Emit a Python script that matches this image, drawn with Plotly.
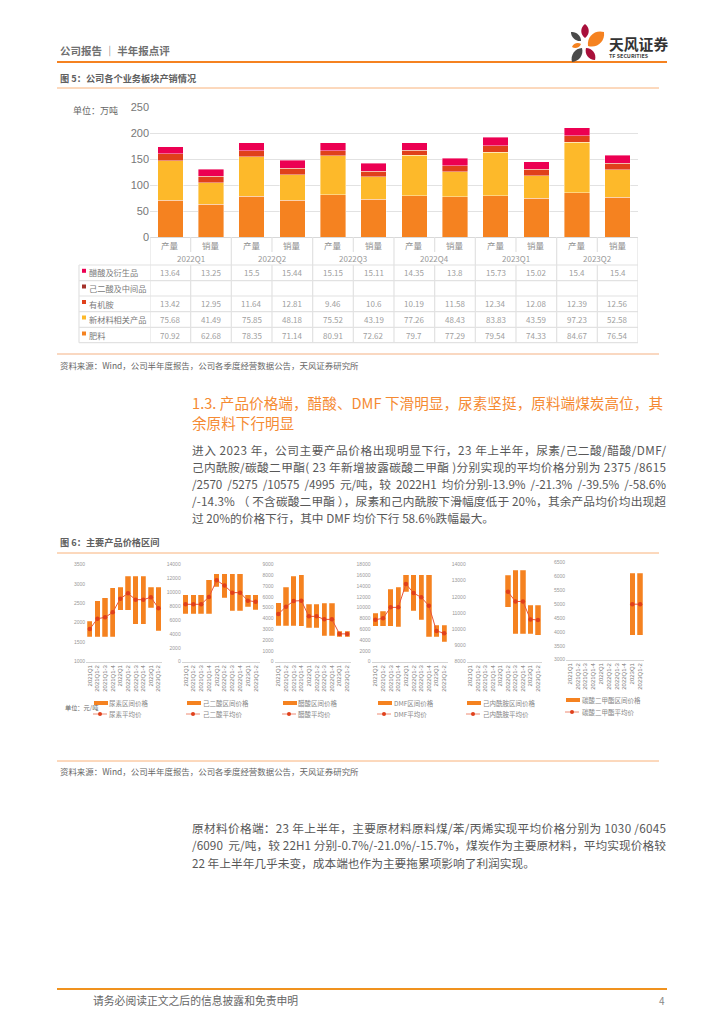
import json
import plotly.graph_objects as go

W, H = 724, 1024
FONT = "Noto Sans CJK SC"

# ---------- Figure 5 data ----------
cat_main = ["产量", "销量"] * 6
quarters = ["2022Q1", "2022Q2", "2022Q3", "2022Q4", "2023Q1", "2023Q2"]
acetic = [13.64, 13.25, 15.5, 15.44, 15.15, 15.11, 14.35, 13.8, 15.73, 15.02, 15.4, 15.4]
adipic = [None] * 12
amine = [13.42, 12.95, 11.64, 12.81, 9.46, 10.6, 10.19, 11.58, 12.34, 12.08, 12.39, 12.56]
newmat = [75.68, 41.49, 75.85, 48.18, 75.52, 43.19, 77.26, 48.43, 83.83, 43.59, 97.23, 52.58]
fert = [70.92, 62.68, 78.35, 71.14, 80.91, 72.62, 79.7, 77.29, 79.54, 74.33, 84.67, 76.54]
main_ticks = [0, 50, 100, 150, 200, 250]

# ---------- Figure 6 data ----------
periods = ["2021Q1", "2021Q1-2", "2021Q1-3", "2021Q1-4", "2022Q1", "2022Q1-2", "2022Q1-3", "2022Q1-4", "2023Q1", "2023Q1-2"]
urea_hi = [2044, 2558, 2643, 2900, 2917, 3191, 3191, 3191, 2917, 2917]
urea_lo = [1642, 1642, 1642, 1642, 2318, 2318, 1967, 1967, 2387, 1796]
urea_avg = [1839, 2104, 2138, 2267, 2618, 2755, 2592, 2592, 2652, 2375]
adip_hi = [9592, 9592, 9592, 11750, 12613, 12613, 12613, 12613, 9592, 9592]
adip_lo = [6858, 6858, 6858, 6858, 10743, 9208, 7338, 7338, 7913, 7482]
adip_avg = [8249, 8249, 8249, 9304, 11702, 10935, 9928, 9928, 8777, 8615]
acet_hi = [5455, 6871, 7918, 8011, 5330, 5330, 5421, 5421, 2803, 2803]
acet_lo = [3328, 3328, 3328, 3297, 3143, 3143, 2402, 2402, 2310, 2310]
acet_avg = [4406, 5086, 5607, 5638, 4190, 4190, 3912, 3912, 2570, 2570]
dmf_hi = [8994, 9363, 13429, 13737, 16078, 16078, 16078, 16078, 6714, 6714]
dmf_lo = [6591, 6591, 6591, 6468, 12936, 9425, 7762, 4620, 4620, 3696]
dmf_avg = [7762, 8008, 10041, 10041, 14353, 12690, 11889, 10349, 5667, 5275]
capro_hi = [None, None, None, None, None, 13330, 13638, 13638, 11485, 11485]
capro_lo = [None, None, None, None, None, 11342, 9722, 9722, 9722, 9640]
capro_avg = [None, None, None, None, None, 12305, 11711, 11711, 10604, 10575]
dmc_hi = [None] * 8 + [6110, 6110]
dmc_lo = [None] * 8 + [3873, 3873]
dmc_avg = [None] * 8 + [4995, 4995]

ORANGE = "#F58220"
YELLOW = "#FDB92A"
RED = "#E0401B"
BROWN = "#A5322A"
CRIMSON = "#EC0052"
GRID = "#E2E2E2"


def px(x):
    return x / W


def py(y):
    return 1 - y / H


annotations = []
shapes = []
justify = {}


def txt(x, y, s, size=9, color="#666666", anchor="left", xref="paper", width=None):
    annotations.append(dict(
        x=px(x) if xref == "paper" else x, y=py(y), xref=xref, yref="paper", text=s,
        showarrow=False, xanchor=anchor, yanchor="middle", borderpad=0,
        font=dict(family=FONT, size=size, color=color)))
    if width:
        justify[s] = width


def hline(x0, x1, y, color, width=1, xref="paper"):
    shapes.append(dict(type="line", xref=xref, yref="paper",
                       x0=px(x0) if xref == "paper" else x0,
                       x1=px(x1) if xref == "paper" else x1,
                       y0=py(y), y1=py(y), line=dict(color=color, width=width)))


def vline(x, y0, y1, color=GRID, width=1.2, xref="x"):
    shapes.append(dict(type="line", xref=xref, yref="paper", x0=x, x1=x, y0=py(y0), y1=py(y1),
                       line=dict(color=color, width=width)))


def box(x0, y0, x1, y1, color):
    shapes.append(dict(type="rect", xref="paper", yref="paper", x0=px(x0), x1=px(x1), y0=py(y0), y1=py(y1),
                       fillcolor=color, line=dict(width=0)))


def petal(x0, y0, x1, y1, w, color):
    """Leaf shape between two tips, in page pixels."""
    dx, dy = x1 - x0, y1 - y0
    L = (dx * dx + dy * dy) ** 0.5
    nx, ny = -dy / L * w, dx / L * w
    a = (x0 + dx * 0.25, y0 + dy * 0.25)
    b = (x0 + dx * 0.75, y0 + dy * 0.75)
    pts = [(a[0] + nx, a[1] + ny), (b[0] + nx, b[1] + ny), (x1, y1),
           (b[0] - nx, b[1] - ny), (a[0] - nx, a[1] - ny), (x0, y0)]
    c = lambda p: f"{px(p[0]):.5f},{py(p[1]):.5f}"
    path = f"M{c((x0, y0))} C{c(pts[0])} {c(pts[1])} {c(pts[2])} C{c(pts[3])} {c(pts[4])} {c(pts[5])} Z"
    shapes.append(dict(type="path", xref="paper", yref="paper", path=path, fillcolor=color, line=dict(width=0)))


fig = go.Figure()
layout_axes = {}

# ---------- main chart ----------
X0, X1, YT, YB = 150, 638, 107, 237
layout_axes["xaxis"] = dict(domain=[px(X0), px(X1)], range=[-0.5, 11.5], showticklabels=False, showgrid=False,
                            zeroline=False, showline=False, ticks="", anchor="y", fixedrange=True, automargin=False)
layout_axes["yaxis"] = dict(domain=[py(YB), py(YT)], range=[0, 250], tickvals=main_ticks, showgrid=True,
                            gridcolor=GRID, gridwidth=1.2, zeroline=True, zerolinecolor="#D8D8D8", zerolinewidth=1.2,
                            showline=False, ticks="", anchor="x", fixedrange=True, automargin=False,
                            tickfont=dict(family="Liberation Sans", size=11, color="#777777"))
xs = list(range(12))
for vals, col in [(fert, ORANGE), (newmat, YELLOW), (amine, RED), (adipic, BROWN), (acetic, CRIMSON)]:
    fig.add_trace(go.Bar(x=xs, y=vals, marker=dict(color=col, line=dict(width=0.8, color="rgba(255,255,255,0.5)")),
                         width=0.63, xaxis="x", yaxis="y"))
txt(72, 110, "单位：万吨", 9, "#666666")

# table
row_labels = ["醋酸及衍生品", "己二酸及中间品", "有机胺", "新材料相关产品", "肥料"]
row_colors = [CRIMSON, BROWN, RED, YELLOW, ORANGE]
row_vals = [acetic, adipic, amine, newmat, fert]
row_y = [272.3, 288, 303.5, 319, 335]
row_lines = [265, 280.7, 296, 311.7, 327.3, 342.7]
for y in row_lines:
    hline(79, X1, y, GRID, 1.2)
vline(px(79), 265, 342.7, GRID, 1.2, "paper")
for i in range(13):
    if i % 2 == 0:
        vline(i - 0.5, YB, 342.7)
    else:
        vline(i - 0.5, YB, 252)
        vline(i - 0.5, 265, 342.7)
for i, c in enumerate(cat_main):
    txt(i, 245, c, 8.5, "#909090", "center", "x")
for i, q in enumerate(quarters):
    txt(2 * i + 0.5, 258, q, 8, "#999999", "center", "x")
for lab, col, vals, y in zip(row_labels, row_colors, row_vals, row_y):
    box(82, y - 3.5, 86, y + 0.5, col)
    txt(88, y, lab, 8.2, "#7A7A7A")
    for i, v in enumerate(vals):
        if v is not None:
            txt(i, y, f"{v:g}", 8, "#A0A0A0", "center", "x")

# ---------- price charts ----------
charts = [
    ("尿素", urea_hi, urea_lo, urea_avg, 86, 162.3, 564.3, 661.7, [1000, 3500], 500, 94, 108, 703, 714),
    ("己二酸", adip_hi, adip_lo, adip_avg, 181.7, 259.5, 564.3, 661.7, [0, 14000], 2000, 187, 202, 703, 714),
    ("醋酸", acet_hi, acet_lo, acet_avg, 274.5, 351, 564.3, 661.7, [0, 9000], 1000, 283, 297, 703, 714),
    ("DMF", dmf_hi, dmf_lo, dmf_avg, 371.5, 448, 564.3, 661.7, [0, 18000], 2000, 378, 393, 703, 714),
    ("己内酰胺", capro_hi, capro_lo, capro_avg, 466.7, 541.7, 564.3, 661.7, [8000, 14000], 1000, 467, 482, 703, 714),
    ("碳酸二甲酯", dmc_hi, dmc_lo, dmc_avg, 566, 644, 562.3, 659.7, [3000, 6500], 500, 566, 581, 700, 712),
]
for k, (name, hi, lo, avg, x0, x1, yt, yb, rng, dt, sw, tx, ly1, ly2) in enumerate(charts):
    n = k + 2
    xa, ya = f"x{n}", f"y{n}"
    layout_axes[f"xaxis{n}"] = dict(domain=[px(x0), px(x1)], type="category", categoryorder="array",
                                    categoryarray=periods, range=[-0.5, 9.5], anchor=ya,
                                    showline=True, linecolor="#D5D5D5", linewidth=1, showgrid=False, zeroline=False,
                                    ticks="", tickangle=-90, tickfont=dict(family="Liberation Sans", size=6, color="#777777"),
                                    fixedrange=True, automargin=False)
    layout_axes[f"yaxis{n}"] = dict(domain=[py(yb), py(yt)], range=rng, dtick=dt, tick0=rng[0], anchor=xa,
                                    showline=False, showgrid=False, zeroline=False, ticks="", tickformat="d",
                                    tickfont=dict(family="Liberation Sans", size=5, color="#999999"),
                                    fixedrange=True, automargin=False)
    fig.add_trace(go.Bar(x=periods, y=[None if h is None else h - l for h, l in zip(hi, lo)], base=lo,
                         marker=dict(color=ORANGE, line=dict(width=0.6, color="rgba(255,255,255,0.4)")), width=0.7, xaxis=xa, yaxis=ya))
    fig.add_trace(go.Scatter(x=periods, y=avg, mode="lines+markers", line=dict(color="#E8553A", width=1),
                             marker=dict(color=RED, size=4.5), xaxis=xa, yaxis=ya, connectgaps=False))
    box(sw, ly1 - 2, sw + 14, ly1 + 2, ORANGE)
    hline(sw - 1, sw + 13, ly2, "#EE8A72", 1)
    shapes.append(dict(type="circle", xref="paper", yref="paper", x0=px(sw + 4), x1=px(sw + 8),
                       y0=py(ly2 + 2), y1=py(ly2 - 2), fillcolor=RED, line=dict(width=0)))
    txt(tx, ly1, f"{name}区间价格", 6.5, "#888888")
    txt(tx, ly2, f"{name}平均价", 6.5, "#888888")
txt(64, 707, "单位：元/吨", 6.2, "#666666")

# ---------- page furniture ----------
SOURCE = "资料来源：Wind，公司半年度报告，公司各季度经营数据公告，天风证券研究所"
txt(59, 50, "<b>公司报告 ｜ 半年报点评</b>", 10.5, "#707070")
hline(57, 667, 62, ORANGE, 2)
txt(59, 78, "<b>图 5：公司各个业务板块产销情况</b>", 9.2, "#606060")
hline(57, 659, 88, "#F9B27A", 1)
hline(57, 659, 354, "#F4B183", 1)
txt(59, 365, SOURCE, 8.45, "#666666")
txt(191, 402, "1.3. 产品价格端，醋酸、DMF 下滑明显，尿素坚挺，原料端煤炭高位，其", 14.6, "#F58A32", width=471)
txt(191, 422, "余原料下行明显", 14.6, "#F58A32")
body = [
    ("进入 2023 年，公司主要产品价格出现明显下行，23 年上半年，尿素/己二酸/醋酸/DMF/", 449, 474),
    ("己内酰胺/碳酸二甲酯( 23 年新增披露碳酸二甲酯 )分别实现的平均价格分别为 2375 /8615", 466, 474),
    ("/2570  /5275  /10575  /4995  元/吨，较  2022H1  均价分别-13.9%  /-21.3%  /-39.5%  /-58.6%", 483, 474),
    ("/-14.3% （ 不含碳酸二甲酯 ），尿素和己内酰胺下滑幅度低于 20%，其余产品均价均出现超", 500, 474),
    ("过 20%的价格下行，其中 DMF 均价下行 58.6%跌幅最大。", 517, None),
]
for s, y, wd in body:
    txt(191, y, s, 11.7, "#585858", width=wd)
txt(59, 542, "<b>图 6：主要产品价格区间</b>", 9.2, "#606060")
hline(57, 659, 553, "#F9B27A", 1)
hline(57, 659, 761, "#F9B27A", 1)
txt(59, 771, SOURCE, 8.45, "#666666")
para2 = [
    ("原材料价格端：23 年上半年，主要原材料原料煤/苯/丙烯实现平均价格分别为 1030 /6045", 827, 474),
    ("/6090  元/吨，较 22H1 分别-0.7%/-21.0%/-15.7%，煤炭作为主要原材料，平均实现价格较", 844, 474),
    ("22 年上半年几乎未变，成本端也作为主要拖累项影响了利润实现。", 862, None),
]
for s, y, wd in para2:
    txt(191, y, s, 11.7, "#585858", width=wd)
hline(57, 667, 989, "#F0921E", 2)
txt(92, 1000, "请务必阅读正文之后的信息披露和免责申明", 10.8, "#666666")
txt(658, 1000, "4", 10, "#888888")

# logo
petal(585, 24, 585, 38, 5, "#A80F3A")
petal(588, 46, 604, 32, 8, ORANGE)
petal(571, 32, 581, 41, 4, "#4A4A4A")
petal(572, 47, 581, 44, 3, ORANGE)
petal(572, 62, 582, 48, 5.5, "#4A4A4A")
petal(586, 48, 595, 60, 5, "#A80F3A")
txt(608, 43.5, "<b>天风证券</b>", 14.8, "#333333")
txt(608, 56, "<b>TF SECURITIES</b>", 5.4, "#444444")

fig.update_layout(
    width=W, height=H, margin=dict(l=0, r=0, t=0, b=0, pad=0, autoexpand=False), autosize=False,
    paper_bgcolor="white", plot_bgcolor="white", barmode="stack", showlegend=False,
    annotations=annotations, shapes=shapes, font=dict(family=FONT),
    **layout_axes)

post = """
document.body.style.margin='0';document.body.style.overflow='hidden';
var J = %s;
document.querySelectorAll('.annotation-text').forEach(function(t){
  var w = J[t.textContent.replace(/\\u00a0/g,' ')];
  if(!w) return;
  var a = t.getBBox().x;
  t.setAttribute('textLength', w);
  t.setAttribute('lengthAdjust', 'spacing');
  var b = t.getBBox().x;
  t.setAttribute('x', parseFloat(t.getAttribute('x')) + a - b);
});
""" % json.dumps(justify, ensure_ascii=False)

fig.write_html("out.html", post_script=post, config=dict(displayModeBar=False))
